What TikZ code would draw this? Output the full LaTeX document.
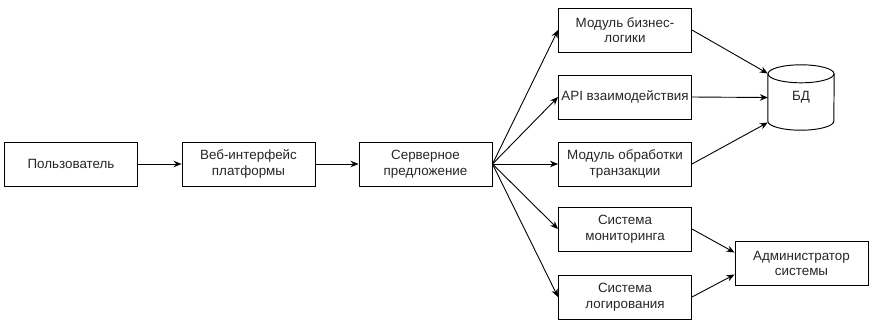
\documentclass[tikz,border=0pt]{standalone}
\usepackage{fontspec}
\setmainfont{Liberation Sans}
\usetikzlibrary{arrows.meta,calc}
\begin{document}
\begin{tikzpicture}[x=1pt,y=-1pt,
  box/.style={draw=black, line width=0.95pt, minimum width=133pt, minimum height=44pt, inner sep=0pt, align=center, font=\fontsize{13.4}{15.5}\selectfont, text=black!85},
  conn/.style={draw=black, line width=0.9pt, -{Stealth[length=8pt,width=6.5pt]}},
  dbline/.style={draw=black, line width=0.95pt}]
\useasboundingbox (0,0) rectangle (874,325);
\node[box] (user) at (71,164) {Пользователь};
\node[box] (web) at (248.5,164) {Веб-интерфейс\\платформы};
\node[box] (srv) at (425.5,164) {Серверное\\предложение};
\node[box] (biz) at (625,30) {Модуль бизнес-\\логики};
\node[box] (api) at (625,97) {API взаимодействия};
\node[box] (trn) at (625,164) {Модуль обработки\\транзакции};
\node[box] (mon) at (625,229) {Система\\мониторинга};
\node[box] (log) at (625,297) {Система\\логирования};
\node[box] (adm) at (801.5,263.5) {Администратор\\системы};
\node[minimum width=66pt, minimum height=65pt, inner sep=0pt,
  font=\fontsize{13.4}{15.5}\selectfont, text=black!85] (db) at (801,97.5) {БД};
\draw[dbline] ($(db.north west)+(0,9)$) -- ($(db.south west)+(0,-9)$)
  arc[start angle=180, end angle=0, x radius=33, y radius=9]
  -- ($(db.north east)+(0,9)$);
\draw[dbline] ($(db.north)+(0,9)$) ellipse[x radius=33, y radius=9];
\draw[conn] (user) -- (web);
\draw[conn] (web) -- (srv);
\draw[conn] (srv.east) -- (biz.west);
\draw[conn] (srv.east) -- (api.west);
\draw[conn] (srv.east) -- (trn.west);
\draw[conn] (srv.east) -- (mon.west);
\draw[conn] (srv.east) -- (log.west);
\draw[conn] (biz.east) -- ($(db.west)+(0,-24)$);
\draw[conn] (api.east) -- (db.west);
\draw[conn] (trn.east) -- ($(db.west)+(0,25)$);
\draw[conn] (mon.east) -- ($(adm.west)+(0,-11)$);
\draw[conn] (log.east) -- ($(adm.west)+(0,11)$);
\end{tikzpicture}
\end{document}
